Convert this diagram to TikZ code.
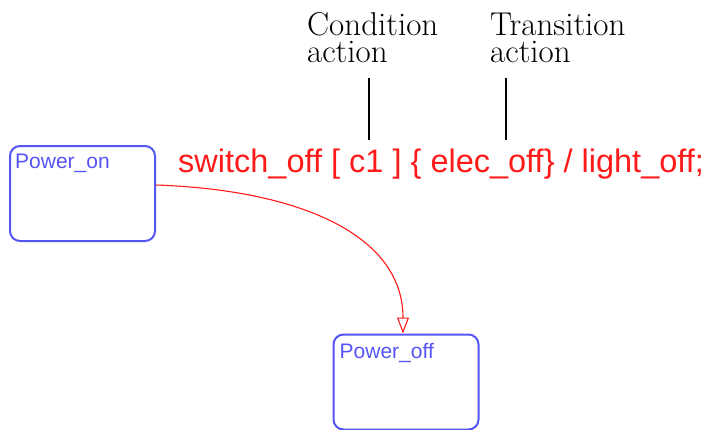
\documentclass[tikz,border=0pt]{standalone}
\usepackage{fontspec}
\setsansfont{Liberation Sans}
\usepackage{tikz}
\usetikzlibrary{arrows.meta, positioning}
\definecolor{stateblue}{HTML}{5555F5}
\definecolor{transred}{HTML}{FF1A1A}

\begin{document}
\begin{tikzpicture}[x=1pt, y=-1pt,
  statebox/.style={rectangle, draw=stateblue, line width=2pt, rounded corners=10pt, minimum width=145pt, minimum height=95pt, inner sep=0pt},
  statename/.style={anchor=base west, inner sep=0pt, text=stateblue, font=\sffamily\fontsize{21}{21}\selectfont},
  translabel/.style={anchor=base west, inner sep=0pt, text=transred, font=\sffamily\fontsize{32.5}{32}\selectfont},
  note/.style={anchor=base west, inner sep=0pt, align=left, font=\fontsize{33}{27}\selectfont},
  trans/.style={draw=transred, line width=1.1pt, -{Triangle[open, length=16pt, width=12pt]}},
  pointer/.style={draw=black, line width=1.4pt}
]
  \useasboundingbox (0,0) rectangle (706,429);

  % states
  \node[statebox] (on) at (82.5,193.5) {};
  \node[statebox] (off) at (406,382) {};
  \node[statename] (onname) at ([shift={(6,23)}]on.north west) {Power\_on};
  \node[statename] (offname) at ([shift={(7,25)}]off.north west) {Power\_off};

  % transition
  \draw[trans] (on.east |- 0,185) .. controls (300,190) and (403,235) .. ([xshift=-3pt]off.north);
  \node[translabel] (label) at (178,172) {switch\_off [ c1 ] \{ elec\_off\} / light\_off;};

  % annotations
  \node[note] (cond) at (307,35) {Condition};
  \node[note] (condb) at (307,62) {action};
  \node[note] (trac) at (490,35) {Transition};
  \node[note] (tracb) at (490,62) {action};
  \coordinate (condtop) at (369,78);
  \coordinate (condbot) at (369,140);
  \coordinate (tractop) at (506,78);
  \coordinate (tracbot) at (506,140);
  \draw[pointer] (condtop) -- (condbot);
  \draw[pointer] (tractop) -- (tracbot);
\end{tikzpicture}
\end{document}
